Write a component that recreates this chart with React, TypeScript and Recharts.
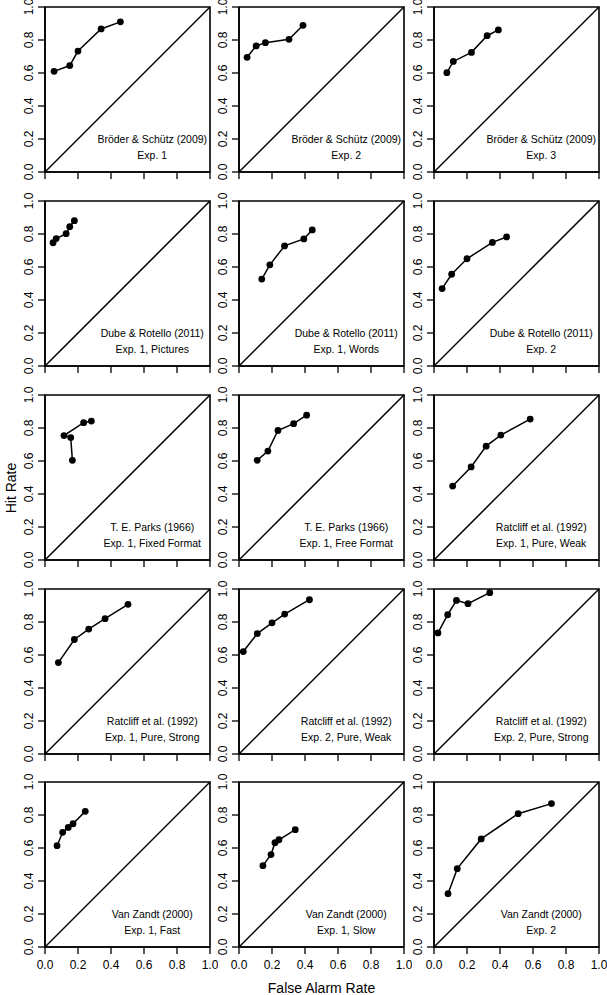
import React from 'react';
import { LineChart, Line, XAxis, YAxis, ReferenceArea, ReferenceLine, ReferenceDot } from 'recharts';

// ---- data (false alarm rate / hit rate per panel) ----
const bs1FA = [0.055, 0.15, 0.2, 0.34, 0.457];
const bs1HR = [0.61, 0.645, 0.733, 0.867, 0.91];
const bs2FA = [0.049, 0.104, 0.16, 0.303, 0.388];
const bs2HR = [0.695, 0.764, 0.784, 0.804, 0.889];
const bs3FA = [0.078, 0.117, 0.227, 0.322, 0.39];
const bs3HR = [0.602, 0.67, 0.725, 0.826, 0.861];

const dr1FA = [0.049, 0.068, 0.128, 0.15, 0.178];
const dr1HR = [0.747, 0.772, 0.802, 0.844, 0.881];
const dr2FA = [0.138, 0.187, 0.276, 0.393, 0.444];
const dr2HR = [0.527, 0.613, 0.728, 0.77, 0.825];
const dr3FA = [0.049, 0.107, 0.2, 0.354, 0.44];
const dr3HR = [0.469, 0.556, 0.65, 0.749, 0.782];

const tp1FA = [0.166, 0.156, 0.115, 0.234, 0.281];
const tp1HR = [0.604, 0.742, 0.754, 0.832, 0.842];
const tp2FA = [0.11, 0.175, 0.236, 0.331, 0.41];
const tp2HR = [0.604, 0.66, 0.785, 0.826, 0.878];
const rc1FA = [0.113, 0.225, 0.316, 0.405, 0.583];
const rc1HR = [0.448, 0.564, 0.69, 0.757, 0.854];

const rc2FA = [0.081, 0.178, 0.265, 0.364, 0.503];
const rc2HR = [0.554, 0.694, 0.757, 0.82, 0.907];
const rc3FA = [0.026, 0.111, 0.2, 0.277, 0.427];
const rc3HR = [0.621, 0.73, 0.795, 0.848, 0.935];
const rc4FA = [0.024, 0.083, 0.136, 0.206, 0.338];
const rc4HR = [0.734, 0.844, 0.931, 0.911, 0.978];

const vz1FA = [0.073, 0.107, 0.141, 0.17, 0.244];
const vz1HR = [0.614, 0.695, 0.725, 0.747, 0.822];
const vz2FA = [0.145, 0.194, 0.218, 0.242, 0.341];
const vz2HR = [0.493, 0.56, 0.632, 0.65, 0.711];
const vz3FA = [0.085, 0.141, 0.286, 0.51, 0.712];
const vz3HR = [0.323, 0.475, 0.655, 0.808, 0.869];

const sources = [
  'Bröder & Schütz (2009)', 'Bröder & Schütz (2009)', 'Bröder & Schütz (2009)',
  'Dube & Rotello (2011)', 'Dube & Rotello (2011)', 'Dube & Rotello (2011)',
  'T. E. Parks (1966)', 'T. E. Parks (1966)', 'Ratcliff et al. (1992)',
  'Ratcliff et al. (1992)', 'Ratcliff et al. (1992)', 'Ratcliff et al. (1992)',
  'Van Zandt (2000)', 'Van Zandt (2000)', 'Van Zandt (2000)',
];
const conditions = [
  'Exp. 1', 'Exp. 2', 'Exp. 3',
  'Exp. 1, Pictures', 'Exp. 1, Words', 'Exp. 2',
  'Exp. 1, Fixed Format', 'Exp. 1, Free Format', 'Exp. 1, Pure, Weak',
  'Exp. 1, Pure, Strong', 'Exp. 2, Pure, Weak', 'Exp. 2, Pure, Strong',
  'Exp. 1, Fast', 'Exp. 1, Slow', 'Exp. 2',
];
const faSets = [bs1FA, bs2FA, bs3FA, dr1FA, dr2FA, dr3FA, tp1FA, tp2FA, rc1FA, rc2FA, rc3FA, rc4FA, vz1FA, vz2FA, vz3FA];
const hrSets = [bs1HR, bs2HR, bs3HR, dr1HR, dr2HR, dr3HR, tp1HR, tp2HR, rc1HR, rc2HR, rc3HR, rc4HR, vz1HR, vz2HR, vz3HR];
const tickValues = [0, 0.2, 0.4, 0.6, 0.8, 1.0];
const xTitle = 'False Alarm Rate';
const yTitle = 'Hit Rate';

// ---- layout ----
const FONT = '"Liberation Sans", Arial, Helvetica, sans-serif';
const COLS = [44.5, 239, 433.5];
const ROWS = [7.3, 201, 394.8, 588.6, 782.3];
const PW = 165;
const PH = 165;
const YW = 40;
const MT = 10;
const MR = 8;
const XH = 30;

const XTick = (props: any) => {
  const { x, y, payload } = props;
  return (
    <text x={x} y={y + 15} textAnchor="middle" fontSize={12} fontFamily={FONT} fill="#000">
      {Number(payload.value).toFixed(1)}
    </text>
  );
};
const NoTick = () => <g />;
const YTick = (props: any) => {
  const { x, y, payload } = props;
  const bx = x - 4.7;
  return (
    <text x={bx} y={y} transform={`rotate(-90, ${bx}, ${y})`} textAnchor="middle" fontSize={12} fontFamily={FONT} fill="#000">
      {Number(payload.value).toFixed(1)}
    </text>
  );
};

const makeLabel = (text: string) => (props: any) => (
  <text x={props.cx} y={props.cy} dy="0.35em" textAnchor="middle" fontSize={10.5} fontFamily={FONT} fill="#000">
    {text}
  </text>
);

function Panel({ idx }: { idx: number }) {
  const row = Math.floor(idx / 3);
  const col = idx % 3;
  const fa = faSets[idx];
  const hr = hrSets[idx];
  const data = fa.map((v, i) => ({ fa: v, hr: hr[i] }));
  const showX = row === 4;
  return (
    <div style={{ position: 'absolute', left: COLS[col] - YW, top: ROWS[row] - MT }}>
      <LineChart
        width={YW + PW + MR}
        height={MT + PH + XH}
        margin={{ top: MT, right: MR, bottom: 0, left: 0 }}
        data={data}
      >
        <XAxis
          dataKey="fa"
          type="number"
          domain={[0, 1]}
          ticks={tickValues}
          interval={0}
          allowDataOverflow
          height={XH}
          tickSize={7}
          tickMargin={0}
          axisLine={{ stroke: '#000', strokeWidth: 1.5 }}
          tickLine={{ stroke: '#000', strokeWidth: 1.3 }}
          tick={showX ? XTick : NoTick}
        />
        <YAxis
          dataKey="hr"
          type="number"
          domain={[0, 1]}
          ticks={tickValues}
          interval={0}
          allowDataOverflow
          width={YW}
          tickSize={7}
          tickMargin={0}
          axisLine={{ stroke: '#000', strokeWidth: 1.5 }}
          tickLine={{ stroke: '#000', strokeWidth: 1.3 }}
          tick={YTick}
        />
        <ReferenceArea x1={0} x2={1} y1={0} y2={1} fill="none" fillOpacity={0} stroke="#000" strokeWidth={1.6} />
        <ReferenceLine segment={[{ x: 0, y: 0 }, { x: 1, y: 1 }]} stroke="#000" strokeWidth={1.5} />
        <Line
          dataKey="hr"
          type="linear"
          stroke="#000"
          strokeWidth={1.5}
          dot={{ r: 3.4, fill: '#000', stroke: '#000', strokeWidth: 0 }}
          activeDot={false}
          isAnimationActive={false}
        />
        <ReferenceDot x={0.65} y={0.2} r={0} shape={makeLabel(sources[idx])} />
        <ReferenceDot x={0.65} y={0.1} r={0} shape={makeLabel(conditions[idx])} />
      </LineChart>
    </div>
  );
}

export default function App() {
  return (
    <div style={{ position: 'absolute', left: 0, top: 0, width: 607, height: 995, background: '#fff', overflow: 'hidden' }}>
      {faSets.map((_, i) => (
        <Panel key={i} idx={i} />
      ))}
      <svg width={607} height={995} style={{ position: 'absolute', left: 0, top: 0, pointerEvents: 'none' }}>
        <text x={321.5} y={993} textAnchor="middle" fontSize={14} fontFamily={FONT} fill="#000">
          {xTitle}
        </text>
        <text x={16} y={488} transform="rotate(-90, 16, 488)" textAnchor="middle" fontSize={14} fontFamily={FONT} fill="#000">
          {yTitle}
        </text>
      </svg>
    </div>
  );
}
